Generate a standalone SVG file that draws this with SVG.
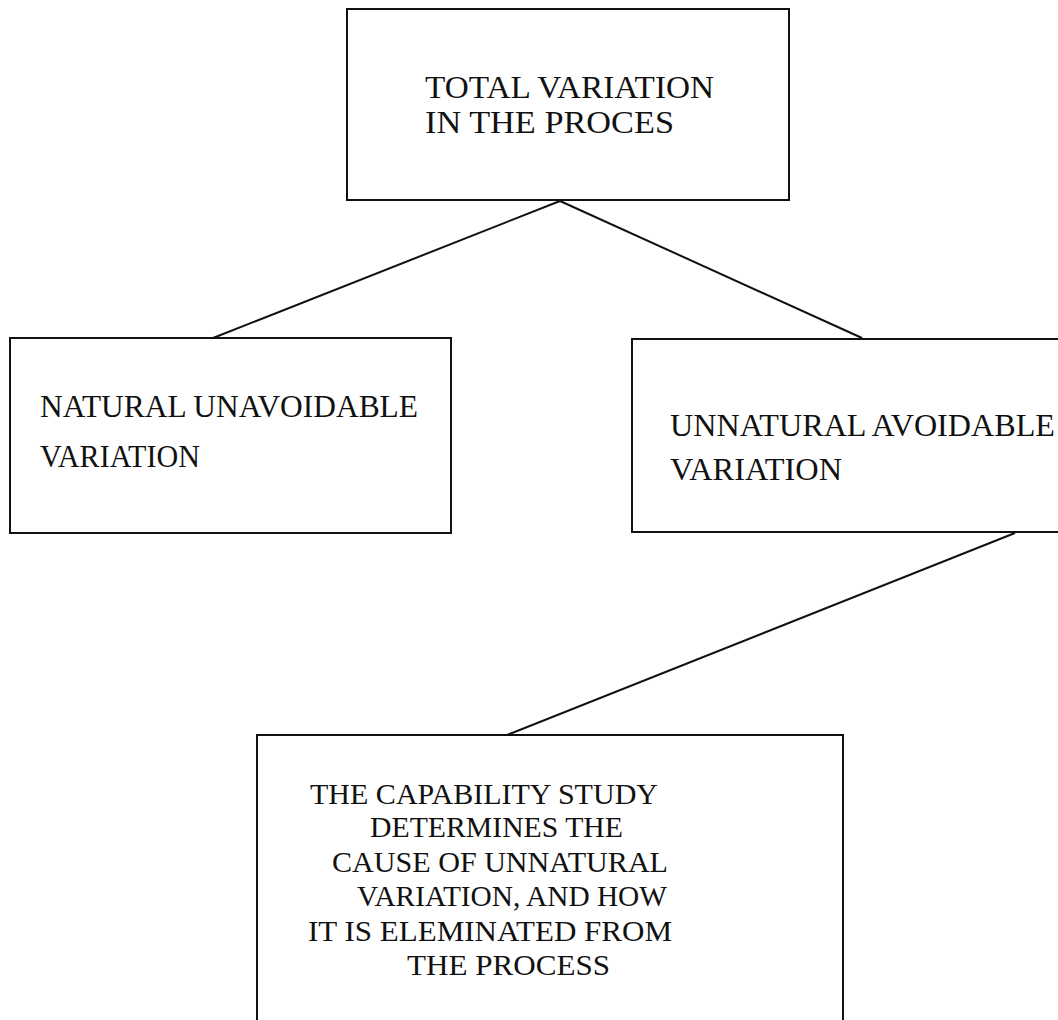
<svg xmlns="http://www.w3.org/2000/svg" width="1058" height="1020" viewBox="0 0 1058 1020">
  <style>
    .box { fill: none; stroke: #111; stroke-width: 2; }
    .link { stroke: #111; stroke-width: 2; fill: none; }
    .lbl { font-family: "Liberation Serif", "Times New Roman", serif; fill: #111; }
  </style>
  <rect width="1058" height="1020" fill="#fff"/>

  <!-- connectors between the boxes -->
  <g id="connectors">
    <line class="link" x1="560" y1="201" x2="213" y2="338"/>
    <line class="link" x1="560" y1="201" x2="862" y2="338"/>
    <line class="link" x1="1015" y1="533" x2="507" y2="735"/>
  </g>

  <g id="total">
    <rect class="box" x="347" y="9" width="442" height="191"/>
    <text class="lbl" font-size="31" x="425" y="98" textLength="289" lengthAdjust="spacingAndGlyphs">TOTAL VARIATION</text>
    <text class="lbl" font-size="31" x="425" y="133" textLength="249" lengthAdjust="spacingAndGlyphs">IN THE PROCES</text>
  </g>

  <g id="natural">
    <rect class="box" x="10" y="338" width="441" height="195"/>
    <text class="lbl" font-size="31" x="40" y="417" textLength="378" lengthAdjust="spacingAndGlyphs">NATURAL UNAVOIDABLE</text>
    <text class="lbl" font-size="31" x="40" y="467" textLength="160" lengthAdjust="spacingAndGlyphs">VARIATION</text>
  </g>

  <g id="unnatural">
    <rect class="box" x="632" y="339" width="440" height="193"/>
    <text class="lbl" font-size="31" x="670" y="436" textLength="385" lengthAdjust="spacingAndGlyphs">UNNATURAL AVOIDABLE</text>
    <text class="lbl" font-size="31" x="670" y="480" textLength="172" lengthAdjust="spacingAndGlyphs">VARIATION</text>
  </g>

  <g id="capability">
    <rect class="box" x="257" y="735" width="586" height="300"/>
    <text class="lbl" font-size="30" x="310" y="804" textLength="348" lengthAdjust="spacingAndGlyphs">THE CAPABILITY STUDY</text>
    <text class="lbl" font-size="30" x="370" y="837" textLength="253" lengthAdjust="spacingAndGlyphs">DETERMINES THE</text>
    <text class="lbl" font-size="30" x="332" y="872" textLength="336" lengthAdjust="spacingAndGlyphs">CAUSE OF UNNATURAL</text>
    <text class="lbl" font-size="30" x="357" y="906" textLength="310" lengthAdjust="spacingAndGlyphs">VARIATION, AND HOW</text>
    <text class="lbl" font-size="30" x="308" y="941" textLength="364" lengthAdjust="spacingAndGlyphs">IT IS ELEMINATED FROM</text>
    <text class="lbl" font-size="30" x="407" y="975" textLength="203" lengthAdjust="spacingAndGlyphs">THE PROCESS</text>
  </g>
</svg>
